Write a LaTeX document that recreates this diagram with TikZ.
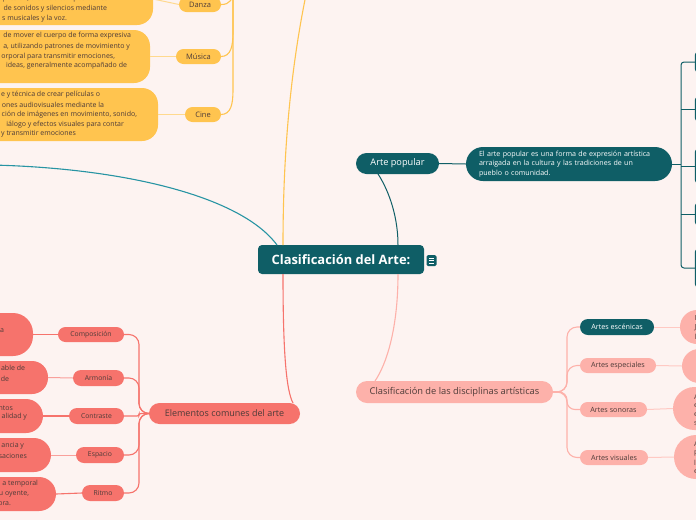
\documentclass[tikz,border=0pt]{standalone}
\usepackage{fontspec}
\setmainfont{Open Sans}
\usetikzlibrary{calc}
\definecolor{cbg}{HTML}{FDF3F1}
\definecolor{cteal}{HTML}{0F5E66}
\definecolor{ctline}{HTML}{2794A3}
\definecolor{cyel}{HTML}{FFC44F}
\definecolor{cyell}{HTML}{FFD98E}
\definecolor{cpink}{HTML}{FDB1AA}
\definecolor{cpinkl}{HTML}{FFC9C3}
\definecolor{csalm}{HTML}{F6736C}
\definecolor{csalml}{HTML}{F9A09B}
\definecolor{ctxt}{HTML}{4D3B38}
\newcommand\fsz[2]{\fontsize{#1}{#2}\selectfont}
\begin{document}
\begin{tikzpicture}[x=1pt,y=-1pt,
  box/.style={inner sep=0pt, outer sep=0pt, align=center},
  frag/.style={inner sep=0pt, outer sep=0pt, text=ctxt, font=\fsz{7}{9}},
  yline/.style={draw=cyel, line width=1.1pt},
  ylight/.style={draw=cyell, line width=1pt},
  tline/.style={draw=ctline, line width=1.1pt},
  dline/.style={draw=cteal, line width=1pt},
  pline/.style={draw=cpink, line width=1.1pt},
  plight/.style={draw=cpinkl, line width=1pt},
  sline/.style={draw=csalm, line width=1.1pt},
  slight/.style={draw=csalml, line width=1pt}]
\fill[cbg] (0,0) rectangle (696,520);
\useasboundingbox (0,0) rectangle (696,520);
\clip (0,0) rectangle (696,520);

% ---------- yellow branch ----------
\node[box, fill=cyel, minimum width=213pt, minimum height=52pt, rounded corners=16pt] (DAd) at (46.5,-1) {};
\node[box, fill=cyel, minimum width=210pt, minimum height=53pt, rounded corners=16pt] (MUd) at (45,56.5) {};
\node[box, fill=cyel, minimum width=218pt, minimum height=53pt, rounded corners=16pt] (CId) at (49,114.5) {};
\node[frag, anchor=east] (da1) at (108,-1) {presión, creando composiciones};
\node[frag, anchor=east] (da2) at (107,9) {de sonidos y silencios mediante};
\node[frag, anchor=east] (da3) at (67,19) {s musicales y la voz.};
\node[frag, anchor=east] (mu1) at (131,36) {de mover el cuerpo de forma expresiva};
\node[frag, anchor=east] (mu2) at (130,47) {a, utilizando patrones de movimiento y};
\node[frag, anchor=east] (mu3) at (115,57) {orporal para transmitir emociones,};
\node[frag, anchor=east] (mu4) at (127,66) {ideas, generalmente acompañado de};
\node[frag, anchor=east] (ci1) at (100,95) {e y técnica de crear películas o};
\node[frag, anchor=east] (ci2) at (104,105) {ones audiovisuales mediante la};
\node[frag, anchor=east] (ci3) at (137,115) {ción de imágenes en movimiento, sonido,};
\node[frag, anchor=east] (ci4) at (124,125) {iálogo y efectos visuales para contar};
\node[frag, anchor=east] (ci5) at (76,134) {y transmitir emociones};

\node[box, fill=cyel, text=ctxt, font=\fsz{7.5}{9}, minimum width=42pt, minimum height=15pt, rounded corners=7.5pt] (DA) at (200,4.5) {Danza};
\node[box, fill=cyel, text=ctxt, font=\fsz{7.5}{9}, minimum width=45pt, minimum height=15pt, rounded corners=7.5pt] (MU) at (198.5,56.5) {Música};
\node[box, fill=cyel, text=ctxt, font=\fsz{7.5}{9}, minimum width=36pt, minimum height=15pt, rounded corners=7.5pt] (CI) at (203,114.5) {Cine};

\draw[ylight] (DAd.east) -- (DA.west);
\draw[ylight] (MUd.east) -- (MU.west);
\draw[ylight] (CId.east) -- (CI.west);
\coordinate (ysub) at (233,-12);
\draw[yline] (DA.east) .. controls (230,4.5) and (233,0) .. (ysub);
\draw[yline] (MU.east) .. controls (231,56.5) and (233,46) .. (233,32) -- (ysub);
\draw[yline] (CI.east) .. controls (231,114.5) and (233,104) .. (233,90) -- (ysub);

% ---------- centre ----------
\node[box, fill=cteal, text=white, font=\bfseries\fsz{12.9}{15}, minimum width=166pt, minimum height=29pt, rounded corners=4pt] (C) at (341,259.5) {Clasificación del Arte:};
\node[box, fill=cteal, minimum width=10pt, minimum height=11pt, rounded corners=1.5pt] (I) at (431.5,260.5) {};
\draw[white, line width=0.7pt] ($(I.center)+(-2.6,-2.5)$) -- ++(5.2,0);
\draw[white, line width=0.7pt] ($(I.center)+(-2.6,0)$) -- ++(5.2,0);
\draw[white, line width=0.7pt] ($(I.center)+(-2.6,2.5)$) -- ++(5.2,0);

\coordinate (ytop) at (307,-10);
\draw[yline] ([xshift=25pt]C.north west) .. controls (283,170) and (288,80) .. (ytop);
\coordinate (tleft) at (-8,165);
\draw[tline] ([xshift=19pt]C.north west) .. controls (240,195) and (120,168) .. (tleft);

% ---------- Arte popular ----------
\node[box, fill=cteal, text=white, font=\fsz{9.2}{11}, minimum width=83pt, minimum height=21pt, rounded corners=10.5pt] (AP) at (397.5,163.5) {Arte popular};
\node[box, fill=cteal, text=white, font=\fsz{7.1}{9.2}, minimum width=206pt, minimum height=34pt, rounded corners=17pt, align=left, text width=180pt] (APd) at (569,164) {El arte popular es una forma de expresión artística\\arraigada en la cultura y las tradiciones de un\\pueblo o comunidad.};
\draw[dline] ([xshift=-26pt]C.north east) .. controls (398,212) and (386,186) .. ([xshift=-19.5pt]AP.south);
\draw[dline] (AP.east) -- (APd.west);
\coordinate (b1) at (700,62);
\coordinate (b2) at (700,109);
\coordinate (b3) at (700,166);
\coordinate (b4) at (700,214);
\coordinate (b5) at (700,268);
\draw[dline, rounded corners=3pt] (b1) -- (681,62) -- (681,268) -- (b5);
\draw[dline] (681,109) -- (b2);
\draw[dline] (681,166) -- (b3);
\draw[dline] (681,214) -- (b4);
\draw[dline] (APd.east) -- (681,164);
\node[box, fill=cteal, minimum width=20pt, minimum height=20pt, rounded corners=3pt, anchor=west] (R1) at (694.8,62) {};
\node[box, fill=cteal, minimum width=20pt, minimum height=24pt, rounded corners=3pt, anchor=west] (R2) at (694.8,109) {};
\node[box, fill=cteal, minimum width=20pt, minimum height=34pt, rounded corners=3pt, anchor=west] (R3) at (694.8,166) {};
\node[box, fill=cteal, minimum width=20pt, minimum height=22pt, rounded corners=3pt, anchor=west] (R4) at (694.8,214) {};
\node[box, fill=cteal, minimum width=20pt, minimum height=38pt, rounded corners=3pt, anchor=west] (R5) at (694.8,268) {};

% ---------- disciplinas ----------
\node[box, fill=cpink, text=ctxt, font=\fsz{9.3}{11}, minimum width=197pt, minimum height=22pt, rounded corners=11pt] (D) at (454.5,392) {Clasificación de las disciplinas artísticas};
\draw[pline] ([xshift=-26pt]C.south east) .. controls (398,330) and (386,365) .. ([xshift=-79.5pt]D.north);
\node[box, fill=cteal, text=white, font=\fsz{7.2}{9}, minimum width=74pt, minimum height=16pt, rounded corners=8pt] (ES) at (617,327) {Artes escénicas};
\node[box, fill=cpink, text=ctxt, font=\fsz{7.2}{9}, minimum width=76pt, minimum height=15pt, rounded corners=7.5pt] (EP) at (618,365.5) {Artes especiales};
\node[box, fill=cpink, text=ctxt, font=\fsz{7.2}{9}, minimum width=67pt, minimum height=15pt, rounded corners=7.5pt] (SO) at (613.5,409.5) {Artes sonoras};
\node[box, fill=cpink, text=ctxt, font=\fsz{7.2}{9}, minimum width=68pt, minimum height=15pt, rounded corners=7.5pt] (VI) at (614,457.5) {Artes visuales};
\draw[pline, rounded corners=10pt] (D.east) -- (567,392) -- (567,327) -- (ES.west);
\draw[pline, rounded corners=10pt] (D.east) -- (567,392) -- (567,365.5) -- (EP.west);
\draw[pline, rounded corners=8pt] (D.east) -- (567,392) -- (567,409.5) -- (SO.west);
\draw[pline, rounded corners=10pt] (D.east) -- (567,392) -- (567,457.5) -- (VI.west);
\node[box, fill=cpink, minimum width=80pt, minimum height=34pt, rounded corners=17pt] (ESd) at (720,327) {};
\node[box, fill=cpink, minimum width=80pt, minimum height=34pt, rounded corners=17pt] (EPd) at (722,366) {};
\node[box, fill=cpink, minimum width=80pt, minimum height=43pt, rounded corners=21.5pt] (SOd) at (713,408.5) {};
\node[box, fill=cpink, minimum width=80pt, minimum height=44pt, rounded corners=22pt] (VId) at (714,457) {};
\draw[plight] (ES.east) -- (ESd.west);
\draw[plight] (EP.east) -- (EPd.west);
\draw[plight] (SO.east) -- (SOd.west);
\draw[plight] (VI.east) -- (VId.west);
\node[frag, anchor=west] (es1) at (694.5,318) {I};
\node[frag, anchor=west] (es2) at (694.5,328) {J};
\node[frag, anchor=west] (es3) at (694.5,337) {l};
\node[frag, anchor=west] (so1) at (694,397) {A};
\node[frag, anchor=west] (so2) at (694,406) {e};
\node[frag, anchor=west] (so3) at (694,415) {e};
\node[frag, anchor=west] (so4) at (694,424) {s};
\node[frag, anchor=west] (vi1) at (694,444) {A};
\node[frag, anchor=west] (vi2) at (694,453) {p};
\node[frag, anchor=west] (vi3) at (694,463) {l};
\node[frag, anchor=west] (vi4) at (694,472) {e};

% ---------- elementos ----------
\node[box, fill=csalm, text=ctxt, font=\fsz{9}{11}, minimum width=151pt, minimum height=21pt, rounded corners=10.5pt] (E) at (224.5,413.5) {Elementos comunes del arte};
\draw[sline] ([xshift=25pt]C.south west) .. controls (283,350) and (286,390) .. ([xshift=-7pt]E.north east);
\node[box, fill=csalm, text=ctxt, font=\fsz{6.8}{8}, minimum width=66pt, minimum height=15pt, rounded corners=7.5pt] (CO) at (91,334.5) {Composición};
\node[box, fill=csalm, text=ctxt, font=\fsz{6.8}{8}, minimum width=51pt, minimum height=16pt, rounded corners=8pt] (AR) at (98.5,378) {Armonía};
\node[box, fill=csalm, text=ctxt, font=\fsz{6.8}{8}, minimum width=55pt, minimum height=16pt, rounded corners=8pt] (CT) at (96.5,416) {Contraste};
\node[box, fill=csalm, text=ctxt, font=\fsz{6.8}{8}, minimum width=48pt, minimum height=16pt, rounded corners=8pt] (EA) at (100,455) {Espacio};
\node[box, fill=csalm, text=ctxt, font=\fsz{6.8}{8}, minimum width=42pt, minimum height=16pt, rounded corners=8pt] (RI) at (103,493) {Ritmo};
\draw[sline, rounded corners=10pt] (E.west) -- (139,413.5) -- (139,334.5) -- (CO.east);
\draw[sline, rounded corners=10pt] (E.west) -- (139,413.5) -- (139,378) -- (AR.east);
\draw[sline, rounded corners=2pt] (E.west) -- (139,413.5) -- (139,416) -- (CT.east);
\draw[sline, rounded corners=10pt] (E.west) -- (139,413.5) -- (139,455) -- (EA.east);
\draw[sline, rounded corners=10pt] (E.west) -- (139,413.5) -- (139,493) -- (RI.east);
\node[box, fill=csalm, minimum width=93pt, minimum height=43pt, rounded corners=20pt] (COd) at (-13.5,334.5) {};
\node[box, fill=csalm, minimum width=93pt, minimum height=33pt, rounded corners=16pt] (ARd) at (1.5,377.5) {};
\node[box, fill=csalm, minimum width=93pt, minimum height=34pt, rounded corners=17pt] (CTd) at (-3.5,416) {};
\node[box, fill=csalm, minimum width=93pt, minimum height=34pt, rounded corners=17pt] (EAd) at (4.5,455) {};
\node[box, fill=csalm, minimum width=93pt, minimum height=34pt, rounded corners=17pt] (RId) at (9.5,494) {};
\draw[sline] (COd.east) -- (CO.west);
\draw[slight] (ARd.east) -- (AR.west);
\draw[sline] (CTd.east) -- (CT.west);
\draw[slight] (EAd.east) -- (EA.west);
\draw[sline] (RId.east) -- (RI.west);
\node[frag, anchor=east] (co1) at (4,331) {a};
\node[frag, anchor=east] (ar1) at (25,368) {able de};
\node[frag, anchor=east] (ar2) at (9,379) {de};
\node[frag, anchor=east] (ct1) at (13,408) {ntos};
\node[frag, anchor=east] (ct2) at (27,417) {alidad y};
\node[frag, anchor=east] (ea1) at (24,446) {ancia y};
\node[frag, anchor=east] (ea2) at (27,456) {saciones};
\node[frag, anchor=east] (ri1) at (38,484) {a temporal};
\node[frag, anchor=east] (ri2) at (29,494) {u oyente,};
\node[frag, anchor=east] (ri3) at (11,504) {ora.};
\end{tikzpicture}
\end{document}
